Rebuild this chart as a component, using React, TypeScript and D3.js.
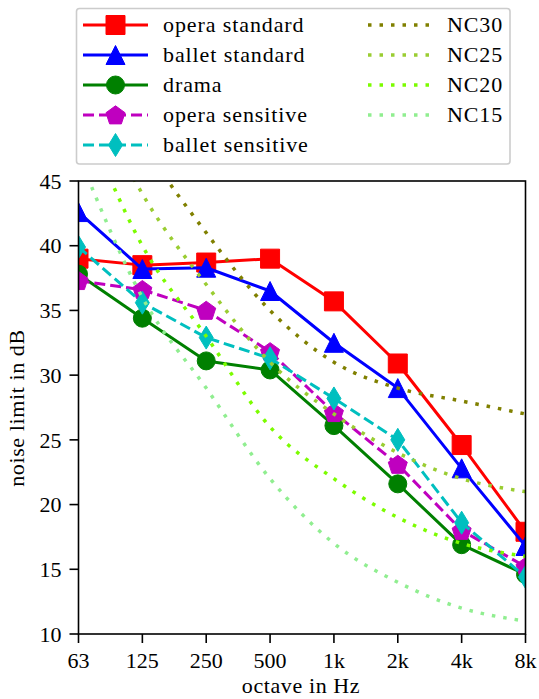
import React from "react";
import * as d3 from "d3";

const categories = ["63", "125", "250", "500", "1k", "2k", "4k", "8k"];
const operaStandard = [39.0, 38.5, 38.7, 39.0, 35.7, 30.9, 24.6, 17.9];
const balletStandard = [42.6, 38.2, 38.3, 36.5, 32.5, 29.0, 22.8, 16.8];
const drama = [37.8, 34.4, 31.1, 30.4, 26.1, 21.6, 16.9, 14.6];
const operaSensitive = [37.3, 36.6, 35.0, 31.8, 27.1, 23.1, 18.0, 15.2];
const balletSensitive = [39.9, 35.6, 32.9, 31.3, 28.2, 25.0, 18.6, 14.4];
const nc30 = [57, 48, 41, 35, 31, 29, 28, 27];
const nc25 = [54, 44, 37, 31, 27, 24, 22, 21];
const nc20 = [51, 40, 33, 26, 22, 19, 17, 16];
const nc15 = [47, 36, 29, 22, 17, 14, 12, 11];
const yTicks = [10, 15, 20, 25, 30, 35, 40, 45];

const FONT = "Liberation Serif, DejaVu Serif, Noto Serif, serif";

const L = 78.5, R = 525.5, T = 181, B = 634;

type MarkerKind = "square" | "triangle" | "circle" | "pentagon" | "diamond";

function markerPath(kind: MarkerKind): string {
  if (kind === "square") {
    const s = 9.5;
    return `M${-s},${-s}L${s},${-s}L${s},${s}L${-s},${s}Z`;
  }
  if (kind === "triangle") {
    const r = 9.5;
    return `M0,${-r}L${r},${r}L${-r},${r}Z`;
  }
  if (kind === "circle") {
    const r = 9;
    return `M${r},0A${r},${r} 0 1,1 ${-r},0A${r},${r} 0 1,1 ${r},0Z`;
  }
  if (kind === "pentagon") {
    const r = 10;
    const pts = d3.range(5).map((i) => {
      const a = -Math.PI / 2 + (i * 2 * Math.PI) / 5;
      return [r * Math.cos(a), r * Math.sin(a) + 0.8];
    });
    return "M" + pts.map((p) => p.join(",")).join("L") + "Z";
  }
  const h = 11.5, w = 7;
  return `M0,${-h}L${w},0L0,${h}L${-w},0Z`;
}

const series = [
  { name: "opera standard", values: operaStandard, color: "#ff0000", marker: "square" as MarkerKind, dash: "" },
  { name: "ballet standard", values: balletStandard, color: "#0000ff", marker: "triangle" as MarkerKind, dash: "" },
  { name: "drama", values: drama, color: "#008000", marker: "circle" as MarkerKind, dash: "" },
  { name: "opera sensitive", values: operaSensitive, color: "#bf00bf", marker: "pentagon" as MarkerKind, dash: "11 5" },
  { name: "ballet sensitive", values: balletSensitive, color: "#00bfbf", marker: "diamond" as MarkerKind, dash: "11 5" },
];

const ncSeries = [
  { name: "NC30", values: nc30, color: "#808000" },
  { name: "NC25", values: nc25, color: "#9acd32" },
  { name: "NC20", values: nc20, color: "#7cfc00" },
  { name: "NC15", values: nc15, color: "#90ee90" },
];

export default function App() {
  const x = d3.scalePoint<string>().domain(categories).range([L, R]).padding(0);
  const y = d3.scaleLinear().domain([10, 45]).range([B, T]);
  const line = d3
    .line<number>()
    .x((_, i) => x(categories[i]) as number)
    .y((d) => y(d));
  const curve = d3
    .line<number>()
    .x((_, i) => x(categories[i]) as number)
    .y((d) => y(d))
    .curve(d3.curveMonotoneX);

  const legX1 = 83, legX2 = 148, legText = 163;
  const rowY = (i: number) => 25 + i * 30;
  const nX1 = 368, nX2 = 431, nText = 447;

  return (
    <svg
      width={539}
      height={699}
      style={{ position: "absolute", left: 0, top: 0, background: "#fff", fontFamily: FONT }}
    >
      <defs>
        <clipPath id="plotClip">
          <rect x={L} y={T} width={R - L} height={B - T} />
        </clipPath>
      </defs>
      <rect x={0} y={0} width={539} height={699} fill="#fff" />

      <g clipPath="url(#plotClip)">
        {series.map((s) => (
          <g key={s.name}>
            <path
              d={line(s.values) || ""}
              fill="none"
              stroke={s.color}
              strokeWidth={3}
              strokeDasharray={s.dash || undefined}
              strokeLinejoin="round"
            />
            {s.values.map((v, i) => (
              <path
                key={i}
                d={markerPath(s.marker)}
                transform={`translate(${x(categories[i])},${y(v)})`}
                fill={s.color}
                stroke={s.color}
                strokeWidth={1}
              />
            ))}
          </g>
        ))}
        {ncSeries.map((s) => (
          <path
            key={s.name}
            d={curve(s.values) || ""}
            fill="none"
            stroke={s.color}
            strokeWidth={3.5}
            strokeDasharray="3.5 8"
          />
        ))}
      </g>

      <rect x={L} y={T} width={R - L} height={B - T} fill="none" stroke="#000" strokeWidth={1.6} />

      {yTicks.map((t) => (
        <g key={t}>
          <line x1={L - 9} x2={L} y1={y(t)} y2={y(t)} stroke="#000" strokeWidth={1.6} />
          <text x={L - 17} y={y(t)} dy="0.35em" textAnchor="end" fontSize={22}>
            {t}
          </text>
        </g>
      ))}
      {categories.map((c) => (
        <g key={c}>
          <line x1={x(c)} x2={x(c)} y1={B} y2={B + 9} stroke="#000" strokeWidth={1.6} />
          <text x={x(c)} y={668} textAnchor="middle" fontSize={22}>
            {c}
          </text>
        </g>
      ))}

      <text x={301} y={693} textAnchor="middle" fontSize={22} letterSpacing={0.6}>
        octave in Hz
      </text>
      <text transform={`translate(24,408) rotate(-90)`} textAnchor="middle" fontSize={22} letterSpacing={0.6}>
        noise limit in dB
      </text>

      <rect x={76.5} y={8.5} width={433.5} height={155.5} rx={3} fill="#fff" fillOpacity={0.8} stroke="#cccccc" strokeWidth={1.6} />
      {series.map((s, i) => {
        const cy = rowY(i);
        const mx = (legX1 + legX2) / 2;
        return (
          <g key={s.name}>
            <line
              x1={legX1}
              x2={legX2}
              y1={cy}
              y2={cy}
              stroke={s.color}
              strokeWidth={3}
              strokeDasharray={s.dash || undefined}
            />
            <path d={markerPath(s.marker)} transform={`translate(${mx},${cy})`} fill={s.color} stroke={s.color} strokeWidth={1} />
            <text x={legText} y={cy} dy="0.32em" fontSize={22} letterSpacing={0.9}>
              {s.name}
            </text>
          </g>
        );
      })}
      {ncSeries.map((s, i) => {
        const cy = rowY(i);
        return (
          <g key={s.name}>
            <line x1={nX1} x2={nX2} y1={cy} y2={cy} stroke={s.color} strokeWidth={3.5} strokeDasharray="3.5 8" />
            <text x={nText} y={cy} dy="0.32em" fontSize={22} letterSpacing={0.9}>
              {s.name}
            </text>
          </g>
        );
      })}
    </svg>
  );
}
